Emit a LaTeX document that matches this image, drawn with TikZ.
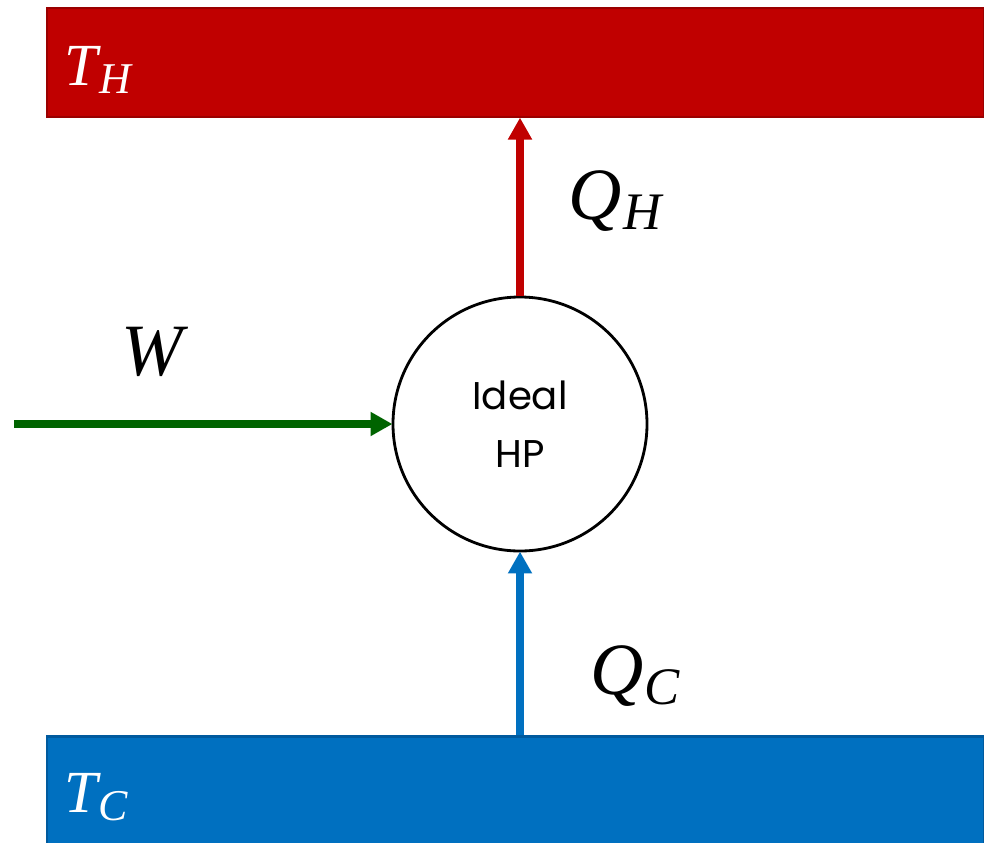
\documentclass[tikz,border=0pt]{standalone}
\usepackage{fontspec}
\newfontfamily\labelfont{Poppins}
\newfontfamily\symfont{Liberation Serif}
\usetikzlibrary{arrows.meta}
\definecolor{hotred}{HTML}{C00000}
\definecolor{hotedge}{HTML}{9A0000}
\definecolor{coldblue}{HTML}{0070C0}
\definecolor{coldedge}{HTML}{005A9E}
\definecolor{workgreen}{HTML}{006400}
% italic symbol with a lowered subscript: #1 main size, #2 sub size
\newcommand{\heatsym}[4]{\symfont\itshape\fontsize{#1}{#1}\selectfont #3\kern0.02em\raisebox{-0.14em}{\fontsize{#2}{#2}\selectfont #4}}
\tikzset{
  reservoir/.style={draw, line width=1.7pt, minimum width=937*0.02cm, minimum height=109*0.02cm, inner sep=0pt},
  flow/.style={line width=4pt, -{Triangle[length=12.5pt, width=13pt]}, shorten >=-0.5pt},
}
\begin{document}
\begin{tikzpicture}[x=0.02cm, y=-0.02cm]
	 \useasboundingbox (0,0) rectangle (984,842);
	 \node[reservoir, fill=hotred, draw=hotedge] (hot) at (515.5,62.5) {};
	 \node[reservoir, fill=coldblue, draw=coldedge, minimum height=130*0.02cm] (cold) at (515.5,801) {};
	 \node[draw, circle, line width=1.6pt, minimum size=254*0.02cm, inner sep=0pt,
	   font=\labelfont\fontsize{22}{33}\selectfont, align=center] (hp) at (520,424) {Ideal\\HP};
	 \coordinate (win) at (14,424);

	 \node[text=white] (th) at (98,70) {\heatsym{34}{25}{T}{H}};
	 \node[text=white] (tc) at (96,797) {\heatsym{34}{25}{T}{C}};
	 \node (qh) at (615,201) {\heatsym{42}{30}{Q}{H}};
	 \node (qc) at (635,676) {\heatsym{42}{30}{Q}{C}};
	 \node (w) at (153,357) {\heatsym{42}{30}{W}{}};

	 \draw[flow, hotred] (hp.north) -- (hp.north |- hot.south);
	 \draw[flow, coldblue] (hp.south |- cold.north) -- (hp.south);
	 \draw[flow, workgreen] (win) -- (hp.west);
\end{tikzpicture}
\end{document}
